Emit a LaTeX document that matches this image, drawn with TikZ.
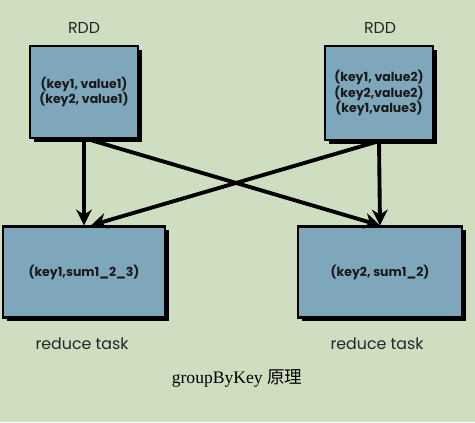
\documentclass[tikz,border=0pt]{standalone}
\usepackage{fontspec}
\setmainfont{Liberation Serif}
\newfontfamily\boxfont{Poppins}
\newfontfamily\cjk{Noto Sans CJK SC}
\usepackage{tikz}
\usetikzlibrary{arrows.meta,shadows}
\definecolor{bggreen}{HTML}{CFDDC1}
\definecolor{rddblue}{HTML}{7EA7BB}

\begin{document}
\begin{tikzpicture}[x=0.02cm,y=-0.02cm,
  rdd/.style={draw,line width=1.3pt,fill=rddblue,align=center,
    font=\boxfont\bfseries\fontsize{7.1}{9}\selectfont,text=black!90,
    drop shadow={shadow xshift=2.2pt,shadow yshift=-2.2pt,fill=black,opacity=1}},
  lbl/.style={font=\boxfont\fontsize{9}{11}\selectfont,text=black!85},
  arr/.style={line width=2.2pt,-{Stealth[length=9pt,width=9pt]}}]
\fill[bggreen](0,0)rectangle(475,422);
\useasboundingbox(0,0)rectangle(475,422);
% input partitions
\node[rdd,minimum width=2.16cm,minimum height=1.84cm](rdda)at(84,92){(key1, value1)\\(key2, value1)};
\node[rdd,minimum width=2.16cm,minimum height=1.88cm](rddb)at(379,93){(key1, value2)\\(key2,value2)\\(key1,value3)};
\node[lbl](rddla)at(84,28){RDD};
\node[lbl](rddlb)at(380,28){RDD};
% reduce side
\node[rdd,minimum width=3.24cm,minimum height=1.82cm](reda)at(84,272){(key1,sum1\_2\_3)};
\node[rdd,minimum width=3.28cm,minimum height=1.82cm](redb)at(380,272){(key2, sum1\_2)};
\node[lbl](redla)at(82,344){reduce task};
\node[lbl](redlb)at(377,344){reduce task};
% shuffle
\draw[arr](rdda.south)--(reda.north);
\draw[arr]([xshift=2pt]rdda.south)--(redb.north);
\draw[arr](rddb.south)--(redb.north);
\draw[arr](rddb.south)--([xshift=4pt]reda.north);
\node[font=\fontsize{10}{12}\selectfont](cap)at(237,378){groupByKey {\cjk 原理}};
\end{tikzpicture}
\end{document}
